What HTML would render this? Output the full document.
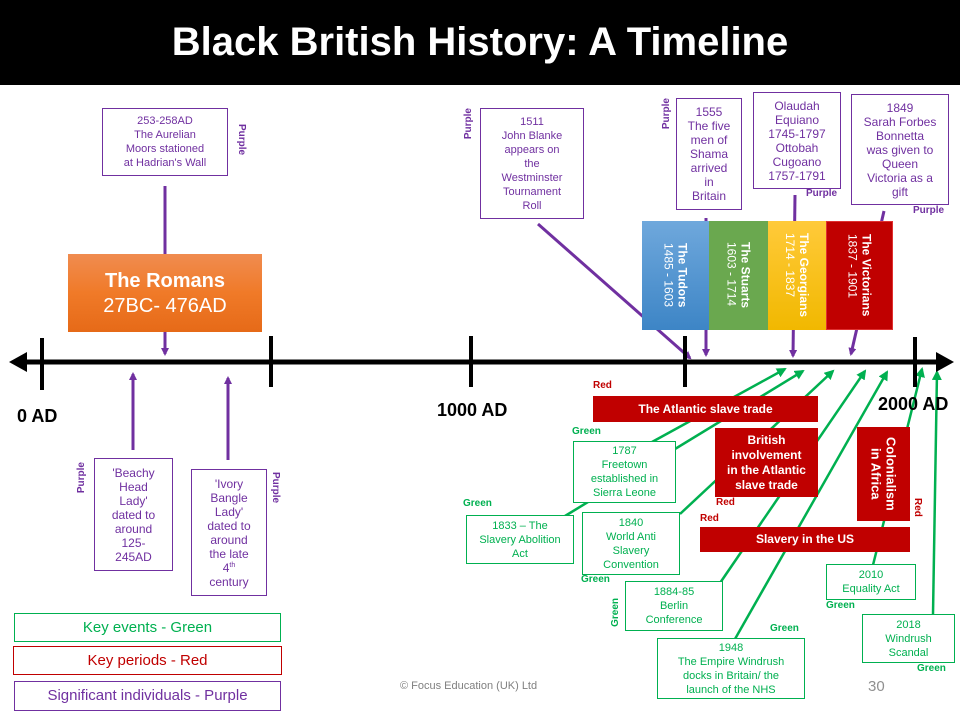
<!DOCTYPE html>
<html><head><meta charset="utf-8"><style>
*{margin:0;padding:0;box-sizing:border-box}
body{width:960px;height:720px;background:#fff;position:relative;overflow:hidden;font-family:"Liberation Sans",sans-serif}
.a{position:absolute}
.bx{position:absolute;border:1.5px solid;text-align:center;font-size:11px;line-height:14px;background:#fff;display:flex;align-items:center;justify-content:center}
.bx>div{width:100%}
.p{color:#7030a0;border-color:#7030a0}
.g{color:#00b050;border-color:#00b050}
.lab{position:absolute;font-size:10px;font-weight:bold}
.v{writing-mode:vertical-rl}
.vr{writing-mode:vertical-rl;transform:rotate(180deg)}
.red{position:absolute;background:#c00000;color:#fff;font-weight:bold;text-align:center;display:flex;align-items:center;justify-content:center;font-size:12px;line-height:15px}
.per{position:absolute;top:221px;height:109px;color:#fff;writing-mode:vertical-rl;display:flex;align-items:center;justify-content:center;font-size:12px;line-height:14px;text-align:left}
.ax{position:absolute;font-weight:bold;font-size:18px}
sup{font-size:7px;line-height:0;vertical-align:super}
</style></head><body>
<div class="a" style="left:0;top:0;width:960px;height:85px;background:#000;color:#fff;font-weight:bold;font-size:40px;text-align:center;line-height:85px">Black British History: A Timeline</div>

<svg class="a" style="left:0;top:0" width="960" height="720">
<defs>
<marker id="mp" markerWidth="8" markerHeight="8" refX="6" refY="4" orient="auto" markerUnits="userSpaceOnUse"><path d="M0,0L8,4L0,8z" fill="#7030a0"/></marker>
<marker id="mg" markerWidth="10" markerHeight="10" refX="8" refY="5" orient="auto" markerUnits="userSpaceOnUse"><path d="M0,0L10,5L0,10z" fill="#00b050"/></marker>
</defs>
<g stroke="#00b050" stroke-width="2.5" marker-end="url(#mg)">
<line x1="565" y1="516" x2="803" y2="371"/>
<line x1="652" y1="442" x2="785" y2="369"/>
<line x1="680" y1="514" x2="833" y2="371"/>
<line x1="720" y1="583" x2="865" y2="371"/>
<line x1="735" y1="639" x2="887" y2="372"/>
<line x1="873" y1="565" x2="922" y2="369"/>
<line x1="933" y1="614" x2="937" y2="372"/>
</g>
<g stroke="#7030a0" stroke-width="3" marker-end="url(#mp)">
<line x1="165" y1="186" x2="165" y2="354"/>
<line x1="133" y1="450" x2="133" y2="374"/>
<line x1="228" y1="460" x2="228" y2="378"/>
<line x1="538" y1="224" x2="690" y2="358"/>
<line x1="706" y1="218" x2="706" y2="355"/>
<line x1="795" y1="195" x2="793" y2="356"/>
<line x1="884" y1="211" x2="851" y2="354"/>
</g>
<line x1="22" y1="362" x2="940" y2="362" stroke="#000" stroke-width="5"/>
<path d="M9,362L27,352L27,372z" fill="#000"/>
<path d="M954,362L936,352L936,372z" fill="#000"/>
<g stroke="#000" stroke-width="4">
<line x1="42" y1="338" x2="42" y2="390"/>
<line x1="271" y1="336" x2="271" y2="387"/>
<line x1="471" y1="336" x2="471" y2="387"/>
<line x1="685" y1="336" x2="685" y2="387"/>
<line x1="915" y1="337" x2="915" y2="387"/>
</g>
</svg>

<div class="bx p" style="left:102px;top:108px;width:126px;height:68px"><div>253-258AD<br>The Aurelian<br>Moors stationed<br>at Hadrian's Wall</div></div>
<div class="lab v" style="left:236px;top:124px;color:#7030a0">Purple</div>
<div class="a" style="left:68px;top:254px;width:194px;height:78px;background:linear-gradient(#f08c50,#f07a28 50%,#e66a18);color:#fff;text-align:center;padding-top:15px"><div style="font-weight:bold;font-size:20px;line-height:24px">The Romans</div><div style="font-size:20px;line-height:26px">27BC- 476AD</div></div>

<div class="bx p" style="left:94px;top:458px;width:79px;height:113px;font-size:12px"><div>'Beachy<br>Head<br>Lady'<br>dated to<br>around<br>125-<br>245AD</div></div>
<div class="lab vr" style="left:76px;top:462px;color:#7030a0">Purple</div>
<div class="bx p" style="left:191px;top:469px;width:76px;height:127px;font-size:12px"><div>'Ivory<br>Bangle<br>Lady'<br>dated to<br>around<br>the late<br>4<sup>th</sup><br>century</div></div>
<div class="lab v" style="left:270px;top:472px;color:#7030a0">Purple</div>

<div class="bx g" style="left:14px;top:613px;width:267px;height:29px;font-size:15px"><div>Key events - Green</div></div>
<div class="bx" style="left:13px;top:646px;width:269px;height:29px;font-size:15px;color:#c00000;border-color:#c00000"><div>Key periods - Red</div></div>
<div class="bx p" style="left:14px;top:681px;width:267px;height:30px;font-size:15px"><div>Significant individuals - Purple</div></div>

<div class="ax" style="left:17px;top:406px">0 AD</div>
<div class="ax" style="left:437px;top:400px">1000 AD</div>
<div class="ax" style="left:878px;top:394px">2000 AD</div>

<div class="bx p" style="left:480px;top:108px;width:104px;height:111px"><div>1511<br>John Blanke<br>appears on<br>the<br>Westminster<br>Tournament<br>Roll</div></div>
<div class="lab vr" style="left:463px;top:108px;color:#7030a0">Purple</div>
<div class="bx p" style="left:676px;top:98px;width:66px;height:112px;font-size:12px"><div>1555<br>The five<br>men of<br>Shama<br>arrived<br>in<br>Britain</div></div>
<div class="lab vr" style="left:661px;top:98px;color:#7030a0">Purple</div>
<div class="bx p" style="left:753px;top:92px;width:88px;height:97px;font-size:12px"><div>Olaudah<br>Equiano<br>1745-1797<br>Ottobah<br>Cugoano<br>1757-1791</div></div>
<div class="lab" style="left:806px;top:188px;color:#7030a0">Purple</div>
<div class="bx p" style="left:851px;top:94px;width:98px;height:111px;font-size:12px"><div>1849<br>Sarah Forbes<br>Bonnetta<br>was given to<br>Queen<br>Victoria as a<br>gift</div></div>
<div class="lab" style="left:913px;top:205px;color:#7030a0">Purple</div>

<div class="per" style="left:642px;width:67px;background:linear-gradient(#6fa8dc,#3d85c6)"><div><b>The Tudors</b><br>1485 - 1603</div></div>
<div class="per" style="left:709px;width:59px;background:#6aa84f"><div><b>The Stuarts</b><br>1603 - 1714</div></div>
<div class="per" style="left:768px;width:58px;background:linear-gradient(#ffca3a,#f1b800)"><div><b>The Georgians</b><br>1714 - 1837</div></div>
<div class="per" style="left:826px;width:67px;background:#c00000;border:1px solid #e03030"><div><b>The Victorians</b><br>1837 - 1901</div></div>

<div class="lab" style="left:593px;top:380px;color:#c00000">Red</div>
<div class="red" style="left:593px;top:396px;width:225px;height:26px">The Atlantic slave trade</div>
<div class="lab" style="left:572px;top:426px;color:#00b050">Green</div>
<div class="bx g" style="left:573px;top:441px;width:103px;height:62px"><div>1787<br>Freetown<br>established in<br>Sierra Leone</div></div>
<div class="lab" style="left:463px;top:498px;color:#00b050">Green</div>
<div class="bx g" style="left:466px;top:515px;width:108px;height:49px"><div>1833 – The<br>Slavery Abolition<br>Act</div></div>
<div class="bx g" style="left:582px;top:512px;width:98px;height:63px"><div>1840<br>World Anti<br>Slavery<br>Convention</div></div>
<div class="lab" style="left:581px;top:574px;color:#00b050">Green</div>
<div class="red" style="left:715px;top:428px;width:103px;height:69px">British<br>involvement<br>in the Atlantic<br>slave trade</div>
<div class="lab" style="left:716px;top:497px;color:#c00000">Red</div>
<div class="lab" style="left:700px;top:513px;color:#c00000">Red</div>
<div class="red" style="left:700px;top:527px;width:210px;height:25px">Slavery in the US</div>
<div class="red v" style="left:857px;top:427px;width:53px;height:94px;font-size:13px">Colonialism<br>in Africa</div>
<div class="lab v" style="left:912px;top:498px;color:#c00000">Red</div>
<div class="bx g" style="left:625px;top:581px;width:98px;height:50px"><div>1884-85<br>Berlin<br>Conference</div></div>
<div class="lab vr" style="left:610px;top:598px;color:#00b050">Green</div>
<div class="bx g" style="left:657px;top:638px;width:148px;height:61px"><div>1948<br>The Empire Windrush<br>docks in Britain/ the<br>launch of the NHS</div></div>
<div class="lab" style="left:770px;top:623px;color:#00b050">Green</div>
<div class="bx g" style="left:826px;top:564px;width:90px;height:36px"><div>2010<br>Equality Act</div></div>
<div class="lab" style="left:826px;top:600px;color:#00b050">Green</div>
<div class="bx g" style="left:862px;top:614px;width:93px;height:49px"><div>2018<br>Windrush<br>Scandal</div></div>
<div class="lab" style="left:917px;top:663px;color:#00b050">Green</div>

<div class="a" style="left:400px;top:680px;font-size:11px;color:#808080">© Focus Education (UK) Ltd</div>
<div class="a" style="left:868px;top:678px;font-size:15px;color:#909090">30</div>
</body></html>
